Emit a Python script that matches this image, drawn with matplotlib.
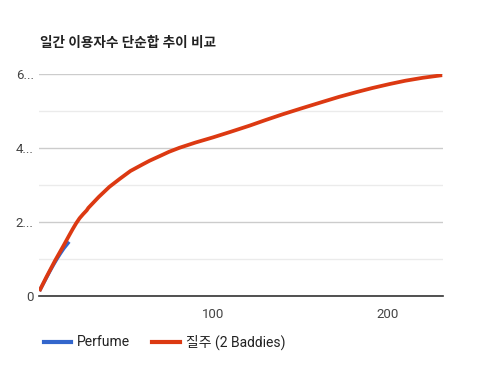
import matplotlib
matplotlib.use("Agg")
import matplotlib.pyplot as plt
from matplotlib.lines import Line2D

plt.rcParams['font.family'] = ['Roboto', 'Noto Sans CJK KR', 'DejaVu Sans']

title = "일간 이용자수 단순합 추이 비교"
series_names = ["Perfume", "질주 (2 Baddies)"]
colors = ["#3366CC", "#DC3912"]

perfume_days = [1, 3, 5, 7, 9, 11, 13, 15, 17, 18]
perfume_vals = [0.12, 0.30, 0.48, 0.66, 0.83, 0.99, 1.14, 1.28, 1.40, 1.46]

baddies_days = [1, 5, 10, 15, 18, 20, 22, 24, 26, 28, 29, 30, 35, 41, 47, 53, 60, 64, 70, 75,
                81, 90, 100, 110, 121, 130, 140, 150, 163, 172, 182, 191, 201, 210, 220, 231]
baddies_vals = [0.12, 0.50, 0.95, 1.37, 1.63, 1.80, 1.96, 2.10, 2.21, 2.31, 2.38, 2.43,
                2.68, 2.95, 3.17, 3.38, 3.56, 3.66, 3.79, 3.90, 4.01, 4.15, 4.29, 4.44,
                4.61, 4.76, 4.92, 5.07, 5.26, 5.39, 5.52, 5.63, 5.74, 5.83, 5.91, 5.98]

yticks = [0, 2, 4, 6]
ytick_labels = ["0", "2...", "4...", "6..."]
xticks = [100, 200]
xtick_labels = ["100", "200"]

fig = plt.figure(figsize=(4.8, 3.76), dpi=100)
ax = fig.add_axes([0.082, 0.214, 0.841, 0.588])

ax.plot(perfume_days, perfume_vals, color=colors[0], lw=2.5, solid_capstyle='butt', zorder=3)
ax.plot(baddies_days, baddies_vals, color=colors[1], lw=2.7, solid_capstyle='butt', zorder=4)

ax.set_xlim(1, 231.5)
ax.set_ylim(0, 6)
ax.set_yticks(yticks)
ax.set_yticklabels(ytick_labels)
ax.set_yticks([1, 3, 5], minor=True)
ax.set_xticks(xticks)
ax.set_xticklabels(xtick_labels)
ax.grid(axis='y', which='major', color='#cccccc', lw=1.0)
ax.grid(axis='y', which='minor', color='#ebebeb', lw=1.0)
ax.set_axisbelow(True)
for s in ['top', 'right', 'left']:
    ax.spines[s].set_visible(False)
ax.spines['bottom'].set_color('#333333')
ax.spines['bottom'].set_linewidth(1.2)
ax.spines['bottom'].set_zorder(5)
ax.tick_params(axis='both', which='both', length=0, labelsize=9.5, labelcolor='#444444')
ax.tick_params(axis='y', pad=4)
ax.tick_params(axis='x', pad=9)

fig.text(0.083, 0.885, title, fontsize=9.8, fontweight='bold', color='#222222',
         ha='left', va='center')

handles = [Line2D([0], [0], color=c, lw=3) for c in colors]
fig.legend(handles, series_names, loc='center left', bbox_to_anchor=(0.065, 0.09),
           ncol=2, frameon=False, fontsize=10, handlelength=2.0, handletextpad=0.4,
           columnspacing=1.6, labelcolor='#222222')

fig.savefig("out.png", dpi=100, facecolor='white')
